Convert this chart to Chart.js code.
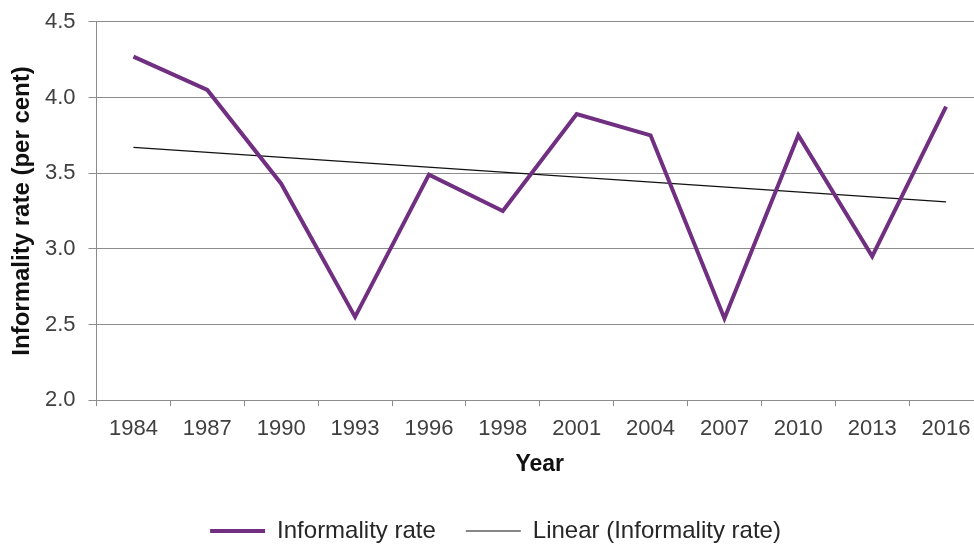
<!DOCTYPE html>
<html>
<head>
<meta charset="utf-8">
<title>Informality rate</title>
<script src="https://cdn.jsdelivr.net/npm/chart.js@4.4.1/dist/chart.umd.min.js"></script>
<style>
    html, body { margin: 0; padding: 0; background: #fff; overflow: hidden; }
    #wrap { width: 974px; height: 546px; overflow: hidden; position: relative; }
    #rate-chart { position: absolute; left: 0; top: 0; }
</style>
</head>
<body>
<div id="wrap"><canvas id="rate-chart" width="984" height="553" style="width:984px;height:553px"></canvas></div>
<script>
// values
const years = ["1984", "1987", "1990", "1993", "1996", "1998", "2001", "2004", "2007", "2010", "2013", "2016"];
const informalityRate = [4.27, 4.05, 3.43, 2.55, 3.49, 3.25, 3.89, 3.75, 2.54, 3.75, 2.95, 3.94];
// linear trend, start and end as drawn
const trendStart = 3.67;
const trendEnd = 3.31;
const yTicks = [2.0, 2.5, 3.0, 3.5, 4.0, 4.5];

document.addEventListener("DOMContentLoaded", function () {
    let font = "'Liberation Sans', Arial, sans-serif";
    let trend = years.map((y, i) => i === 0 ? trendStart : (i === years.length - 1 ? trendEnd : null));

    let ctx = document.getElementById("rate-chart").getContext("2d");
    new Chart(ctx, {
        type: "line",
        data: {
            labels: years,
            datasets: [
                {
                    label: "Informality rate",
                    data: informalityRate,
                    borderColor: "#702f80",
                    borderWidth: 4,
                    pointRadius: 0,
                    tension: 0
                },
                {
                    label: "Linear (Informality rate)",
                    data: trend,
                    borderColor: "#111",
                    borderWidth: 1.2,
                    pointRadius: 0,
                    spanGaps: true
                }
            ]
        },
        options: {
            responsive: false,
            animation: false,
            devicePixelRatio: 1,
            layout: { padding: { top: 16, left: 8, right: 1, bottom: 0 } },
            plugins: {
                tooltip: { enabled: false },
                legend: {
                    position: "bottom",
                    labels: {
                        usePointStyle: true,
                        pointStyle: "line",
                        pointStyleWidth: 55,
                        padding: 30,
                        color: "#262626",
                        font: { family: font, size: 24 }
                    }
                }
            },
            scales: {
                x: {
                    offset: true,
                    grid: {
                        offset: true,
                        drawOnChartArea: false,
                        tickLength: 6,
                        color: "#8c8c8c"
                    },
                    border: { color: "#8c8c8c" },
                    ticks: {
                        padding: 10,
                        color: "#404040",
                        maxRotation: 0,
                        autoSkip: false,
                        font: { family: font, size: 22 }
                    },
                    title: {
                        display: true,
                        text: "Year",
                        color: "#111",
                        padding: { top: 0.5, bottom: 13 },
                        font: { family: font, size: 23, weight: "bold", lineHeight: 1 }
                    }
                },
                y: {
                    min: 2,
                    max: 4.5,
                    afterFit: function (scale) { scale.width = 88.5; },
                    afterBuildTicks: function (scale) { scale.ticks = yTicks.map(v => ({ value: v })); },
                    grid: { color: "#8c8c8c", tickLength: 8 },
                    border: { color: "#8c8c8c" },
                    ticks: {
                        padding: 13,
                        color: "#404040",
                        font: { family: font, size: 22, lineHeight: 0.8 },
                        callback: v => v.toFixed(1)
                    },
                    title: {
                        display: true,
                        text: "Informality rate (per cent)",
                        color: "#111",
                        padding: { top: 0, bottom: 0 },
                        font: { family: font, size: 24, weight: "bold" }
                    }
                }
            }
        }
    });
});
</script>
</body>
</html>
